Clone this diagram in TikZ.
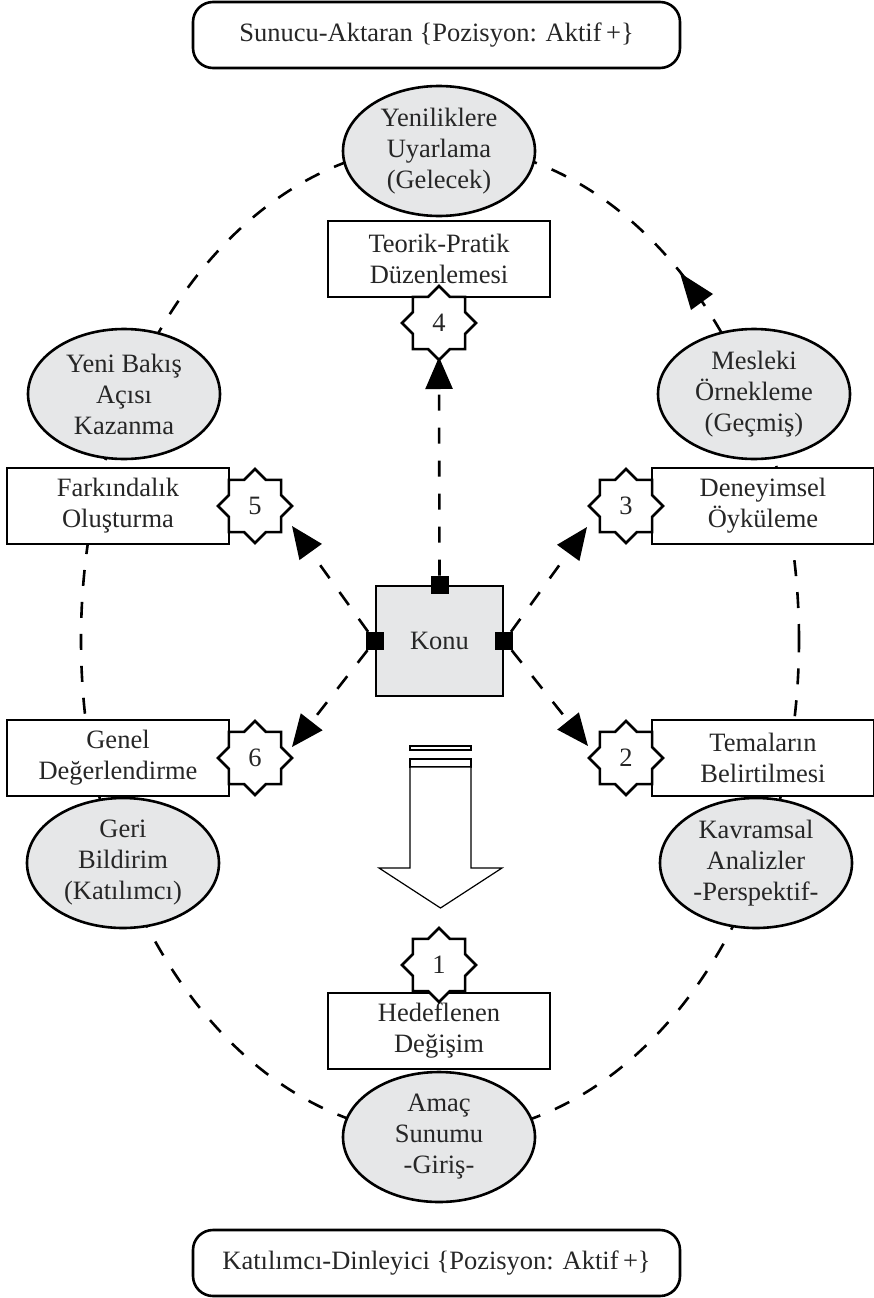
\documentclass[tikz,border=0pt]{standalone}
\usepackage{fontspec}
\setmainfont{Liberation Serif}
\usetikzlibrary{shapes.geometric,arrows.meta}
\definecolor{lg}{HTML}{E6E7E8}
\begin{document}
\begin{tikzpicture}[x=1pt,y=-1pt,
  every node/.style={font=\fontsize{26.5}{31}\selectfont, align=center, text=black!85},
  lw/.style={line width=2.6pt},
  oval/.style={ellipse, draw, lw, fill=lg, minimum width=192pt, minimum height=130pt, inner sep=0pt},
  stepbox/.style={rectangle, draw, lw, fill=white, minimum width=222pt, minimum height=76pt, inner sep=0pt},
  roundbox/.style={rectangle, rounded corners=20pt, draw, lw, minimum width=487pt, minimum height=66pt},
  starnode/.style={star, star points=8, star point ratio=1.3066, minimum size=74pt, inner sep=0pt, draw, lw, fill=white},
  ring/.style={line width=2.6pt, dash pattern=on 16pt off 16pt},
  dasharrow/.style={line width=2.6pt, dash pattern=on 16pt off 17pt, -{Triangle[length=32pt,width=27pt]}},
  marker/.style={rectangle, fill=black, minimum size=18pt, inner sep=0pt},
  hollow/.style={line width=1.2pt, fill=white},
]
\useasboundingbox (0,0) rectangle (873,1298);

% dashed ring
\draw[ring] (440,640) ellipse [x radius=359pt, y radius=495pt];
\coordinate (ringtip) at (680,273);
\fill (ringtip) -- (713,294) -- (691,310) -- cycle;

% rounded boxes
\node[roundbox] (top) at (436.5,35) {Sunucu-Aktaran \{Pozisyon: Aktif\,+\}};
\node[roundbox] (bot) at (436.5,1263) {Katılımcı-Dinleyici \{Pozisyon: Aktif\,+\}};

% ellipses
\node[oval] (e4) at (439,151) {Yeniliklere\\Uyarlama\\(Gelecek)};
\node[oval] (e5) at (124,394) {Yeni Bakış\\Açısı\\Kazanma};
\node[oval] (e3) at (754,394) {Mesleki\\Örnekleme\\(Geçmiş)};
\node[oval] (e6) at (123,863) {Geri\\Bildirim\\(Katılımcı)};
\node[oval] (e2) at (756,863) {Kavramsal\\Analizler\\-Perspektif-};
\node[oval] (e1) at (439,1137) {Amaç\\Sunumu\\-Giriş-};

% step boxes
\node[stepbox] (b4) at (439,259) {Teorik-Pratik\\Düzenlemesi};
\node[stepbox] (b5) at (118,506) {Farkındalık\\Oluşturma};
\node[stepbox] (b3) at (763,506) {Deneyimsel\\Öyküleme};
\node[stepbox] (b6) at (118,758) {Genel\\Değerlendirme};
\node[stepbox] (b2) at (763,758) {Temaların\\Belirtilmesi};
\node[stepbox] (b1) at (439,1031) {Hedeflenen\\Değişim};

% stars
\node[starnode] (s4) at (439,323) {4};
\node[starnode] (s5) at (255,506) {5};
\node[starnode] (s3) at (626,506) {3};
\node[starnode] (s6) at (255,758) {6};
\node[starnode] (s2) at (626,758) {2};
\node[starnode] (s1) at (439,965) {1};

% hollow arrow
\draw[hollow] (410,746) rectangle (471,750);
\draw[hollow] (410,759) rectangle (471,767);
\draw[hollow] (410,767) -- (410,868) -- (379,868) -- (440.5,908) -- (502,868) -- (471,868) -- (471,767) -- cycle;

% center
\node[rectangle, draw, lw, fill=lg, minimum width=127pt, minimum height=110pt, inner sep=0pt] (konu) at (439.5,641) {Konu};

\coordinate (t4) at (439,357);
\coordinate (t5) at (292,526);
\coordinate (t6) at (292,747);
\coordinate (t3) at (587,527);
\coordinate (t2) at (588,746);

\node[marker] (mT) at (konu.north) {};
\node[marker] (mL) at (konu.west) {};
\node[marker] (mR) at (konu.east) {};

\draw[dasharrow] (mT) -- (t4);
\draw[dasharrow] (mL) -- (t5);
\draw[dasharrow] (mL) -- (t6);
\draw[dasharrow] (mR) -- (t3);
\draw[dasharrow] (mR) -- (t2);
\end{tikzpicture}
\end{document}
